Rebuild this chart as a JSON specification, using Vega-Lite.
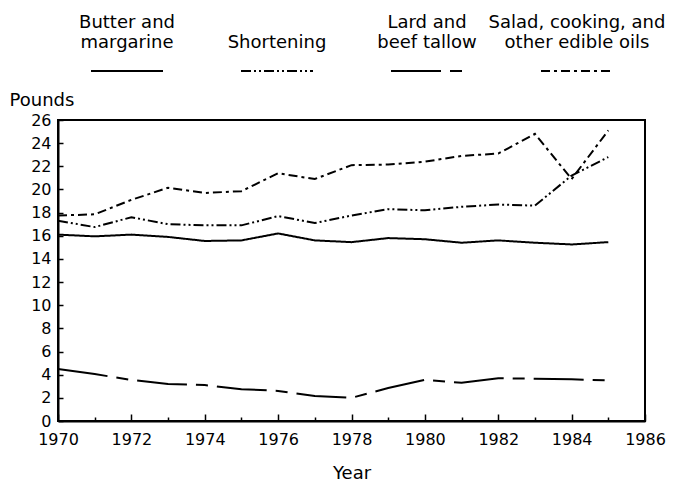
{
  "$schema": "https://vega.github.io/schema/vega-lite/v6.json",
  "padding": {"left": 8, "top": 5, "right": 5, "bottom": 0},
  "bounds": "flush",
  "spacing": 75,
  "config": {
    "font": "DejaVu Sans",
    "view": {"stroke": "black", "strokeWidth": 2},
    "axis": {
      "domainColor": "black", "domainWidth": 2, "tickColor": "black", "tickWidth": 1.5,
      "labelColor": "black", "labelFontSize": 16, "labelFont": "DejaVu Sans",
      "titleColor": "black", "titleFontSize": 18, "titleFontWeight": "normal", "titleFont": "DejaVu Sans",
      "grid": false
    }
  },
  "datasets": {
    "legend": [
      {"series": "Butter and margarine", "line1": "Butter and", "line2": "margarine"},
      {"series": "Shortening", "line1": "", "line2": "Shortening"},
      {"series": "Lard and beef tallow", "line1": "Lard and", "line2": "beef tallow"},
      {"series": "Salad, cooking, and other edible oils", "line1": "Salad, cooking, and", "line2": "other edible oils"}
    ],
    "fats": [
      {"year": 1970, "series": "Butter and margarine", "value": 16.1},
      {"year": 1971, "series": "Butter and margarine", "value": 15.95},
      {"year": 1972, "series": "Butter and margarine", "value": 16.1},
      {"year": 1973, "series": "Butter and margarine", "value": 15.9},
      {"year": 1974, "series": "Butter and margarine", "value": 15.55},
      {"year": 1975, "series": "Butter and margarine", "value": 15.6},
      {"year": 1976, "series": "Butter and margarine", "value": 16.2},
      {"year": 1977, "series": "Butter and margarine", "value": 15.6},
      {"year": 1978, "series": "Butter and margarine", "value": 15.45},
      {"year": 1979, "series": "Butter and margarine", "value": 15.8},
      {"year": 1980, "series": "Butter and margarine", "value": 15.7},
      {"year": 1981, "series": "Butter and margarine", "value": 15.4},
      {"year": 1982, "series": "Butter and margarine", "value": 15.6},
      {"year": 1983, "series": "Butter and margarine", "value": 15.4},
      {"year": 1984, "series": "Butter and margarine", "value": 15.25},
      {"year": 1985, "series": "Butter and margarine", "value": 15.45},
      {"year": 1970, "series": "Shortening", "value": 17.3},
      {"year": 1971, "series": "Shortening", "value": 16.75},
      {"year": 1972, "series": "Shortening", "value": 17.6},
      {"year": 1973, "series": "Shortening", "value": 17.0},
      {"year": 1974, "series": "Shortening", "value": 16.9},
      {"year": 1975, "series": "Shortening", "value": 16.9},
      {"year": 1976, "series": "Shortening", "value": 17.7},
      {"year": 1977, "series": "Shortening", "value": 17.1},
      {"year": 1978, "series": "Shortening", "value": 17.75},
      {"year": 1979, "series": "Shortening", "value": 18.3},
      {"year": 1980, "series": "Shortening", "value": 18.2},
      {"year": 1981, "series": "Shortening", "value": 18.5},
      {"year": 1982, "series": "Shortening", "value": 18.7},
      {"year": 1983, "series": "Shortening", "value": 18.6},
      {"year": 1984, "series": "Shortening", "value": 21.2},
      {"year": 1985, "series": "Shortening", "value": 22.8},
      {"year": 1970, "series": "Lard and beef tallow", "value": 4.5},
      {"year": 1971, "series": "Lard and beef tallow", "value": 4.05},
      {"year": 1972, "series": "Lard and beef tallow", "value": 3.55},
      {"year": 1973, "series": "Lard and beef tallow", "value": 3.2},
      {"year": 1974, "series": "Lard and beef tallow", "value": 3.1},
      {"year": 1975, "series": "Lard and beef tallow", "value": 2.75},
      {"year": 1976, "series": "Lard and beef tallow", "value": 2.6},
      {"year": 1977, "series": "Lard and beef tallow", "value": 2.15},
      {"year": 1978, "series": "Lard and beef tallow", "value": 2.0},
      {"year": 1979, "series": "Lard and beef tallow", "value": 2.85},
      {"year": 1980, "series": "Lard and beef tallow", "value": 3.55},
      {"year": 1981, "series": "Lard and beef tallow", "value": 3.3},
      {"year": 1982, "series": "Lard and beef tallow", "value": 3.7},
      {"year": 1983, "series": "Lard and beef tallow", "value": 3.65},
      {"year": 1984, "series": "Lard and beef tallow", "value": 3.6},
      {"year": 1985, "series": "Lard and beef tallow", "value": 3.5},
      {"year": 1970, "series": "Salad, cooking, and other edible oils", "value": 17.75},
      {"year": 1971, "series": "Salad, cooking, and other edible oils", "value": 17.85},
      {"year": 1972, "series": "Salad, cooking, and other edible oils", "value": 19.1},
      {"year": 1973, "series": "Salad, cooking, and other edible oils", "value": 20.15},
      {"year": 1974, "series": "Salad, cooking, and other edible oils", "value": 19.7},
      {"year": 1975, "series": "Salad, cooking, and other edible oils", "value": 19.85},
      {"year": 1976, "series": "Salad, cooking, and other edible oils", "value": 21.4},
      {"year": 1977, "series": "Salad, cooking, and other edible oils", "value": 20.9},
      {"year": 1978, "series": "Salad, cooking, and other edible oils", "value": 22.1},
      {"year": 1979, "series": "Salad, cooking, and other edible oils", "value": 22.15},
      {"year": 1980, "series": "Salad, cooking, and other edible oils", "value": 22.4},
      {"year": 1981, "series": "Salad, cooking, and other edible oils", "value": 22.9},
      {"year": 1982, "series": "Salad, cooking, and other edible oils", "value": 23.1},
      {"year": 1983, "series": "Salad, cooking, and other edible oils", "value": 24.8},
      {"year": 1984, "series": "Salad, cooking, and other edible oils", "value": 20.9},
      {"year": 1985, "series": "Salad, cooking, and other edible oils", "value": 25.1}
    ]
  },
  "vconcat": [
    {
      "width": 587,
      "height": 40,
      "view": {"stroke": null},
      "data": {"name": "legend"},
      "encoding": {
        "x": {"field": "series", "type": "nominal", "sort": null, "axis": null,
              "scale": {"domain": ["Butter and margarine", "Shortening", "Lard and beef tallow", "Salad, cooking, and other edible oils"], "range": [-6, 594], "paddingInner": 0, "paddingOuter": 0}}
      },
      "layer": [
        {
          "mark": {"type": "text", "fontSize": 18, "baseline": "alphabetic", "align": "center", "dy": 3, "color": "black"},
          "encoding": {"text": {"field": "line1"}}
        },
        {
          "mark": {"type": "text", "fontSize": 18, "baseline": "alphabetic", "align": "center", "dy": 23, "color": "black"},
          "encoding": {"text": {"field": "line2"}}
        },
        {
          "mark": {"type": "rule", "strokeWidth": 2, "color": "black", "yOffset": 46},
          "encoding": {
            "x": {"field": "series", "type": "nominal", "sort": null, "axis": null, "bandPosition": 0.26},
            "x2": {"field": "series", "bandPosition": 0.74},
            "strokeDash": {"field": "series", "type": "nominal", "legend": null,
              "scale": {"domain": ["Butter and margarine", "Shortening", "Lard and beef tallow", "Salad, cooking, and other edible oils"],
                        "range": [[1, 0], [10, 3, 2, 3, 2, 3], [50, 9, 12, 9], [9, 4, 3, 4]]}}
          }
        }
      ]
    },
    {
      "width": 587,
      "height": 301,
      "data": {"name": "fats"},
      "mark": {"type": "line", "strokeWidth": 2, "color": "black"},
      "encoding": {
        "x": {"field": "year", "type": "quantitative",
              "scale": {"domain": [1970, 1986], "nice": false, "zero": false},
              "axis": {"title": "Year", "values": [1970,1971,1972,1973,1974,1975,1976,1977,1978,1979,1980,1981,1982,1983,1984,1985,1986],
                       "format": "d", "labelExpr": "datum.value % 2 == 0 ? datum.label : ''",
                       "tickSize": {"condition": {"test": "datum.value % 2 == 0", "value": -7}, "value": -4},
                       "labelPadding": 17, "labelFlush": false, "labelOverlap": false,
                       "titleY": 57, "titleBaseline": "alphabetic"}},
        "y": {"field": "value", "type": "quantitative",
              "scale": {"domain": [0, 26], "nice": false},
              "axis": {"title": "Pounds", "values": [0,2,4,6,8,10,12,14,16,18,20,22,24,26],
                       "tickSize": -5, "labelPadding": 12, "labelOverlap": false,
                       "titleAngle": 0, "titleX": -49, "titleY": -15, "titleAlign": "left", "titleBaseline": "alphabetic"}},
        "strokeDash": {"field": "series", "type": "nominal", "legend": null,
          "scale": {"domain": ["Butter and margarine", "Shortening", "Lard and beef tallow", "Salad, cooking, and other edible oils"],
                    "range": [[1, 0], [10, 3, 2, 3, 2, 3], [50, 9, 12, 9], [9, 4, 3, 4]]}}
      }
    }
  ]
}
